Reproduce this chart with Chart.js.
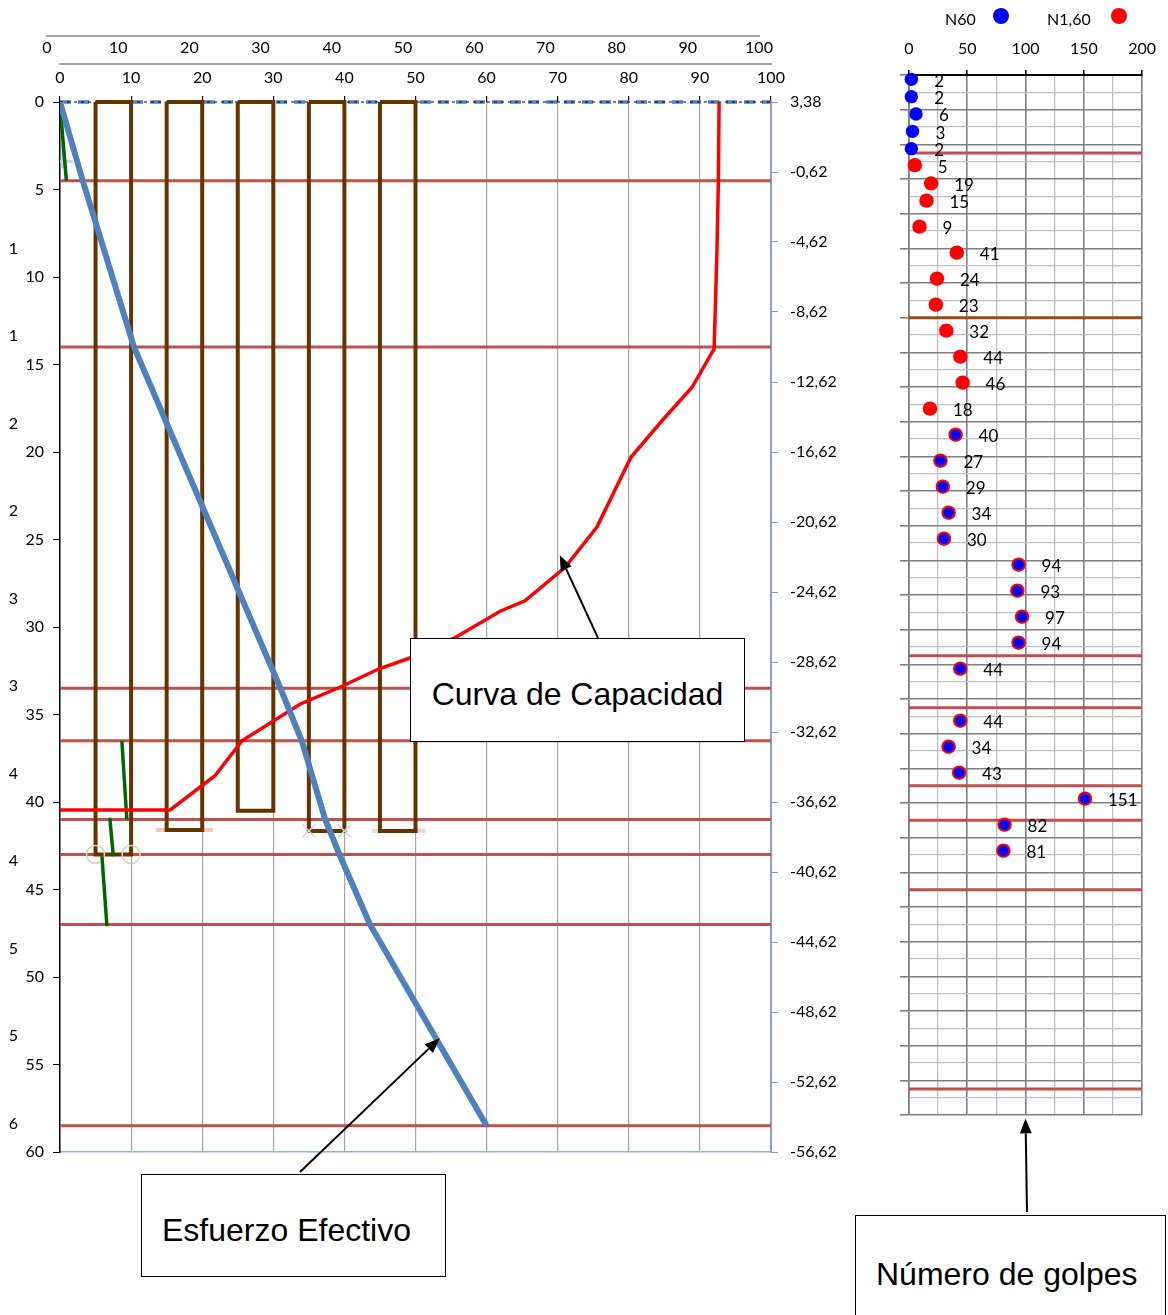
<!DOCTYPE html>
<html>
<head>
<meta charset="utf-8">
<script src="https://cdn.jsdelivr.net/npm/chart.js@4.4.1/dist/chart.umd.min.js"></script>
<style>
  body { margin: 0; background: #fff; }
  #page { position: relative; width: 1168px; height: 1315px; overflow: hidden; font-family: Lato, sans-serif; }
  canvas { position: absolute; }
  .box { position: absolute; background: #fff; border: 1.5px solid #000; box-sizing: border-box;
         font-family: "Liberation Sans", Arial, sans-serif; font-size: 32px; color: #000; white-space: nowrap;
         display: flex; align-items: center; }
  .legend { position: absolute; font-size: 16px; line-height: 18px; color: #000; }
  .dot { position: absolute; width: 16px; height: 16px; border-radius: 50%; }
</style>
</head>
<body>
<div id="page">
  <canvas id="main" width="860" height="1315" style="left:0;top:0"></canvas>
  <canvas id="axisInner" width="860" height="100" style="left:0;top:0"></canvas>
  <canvas id="axisOuter" width="860" height="70" style="left:0;top:0"></canvas>
  <canvas id="spt" width="308" height="1315" style="left:860px;top:0"></canvas>

  <div class="legend" style="left:945px;top:10px">N60</div>
  <div class="dot" style="left:993px;top:8px;background:#0000FF"></div>
  <div class="legend" style="left:1047px;top:10px">N1,60</div>
  <div class="dot" style="left:1111px;top:8px;background:#FF0000"></div>

  <div class="box" style="left:410px;top:638px;width:335px;height:104px;justify-content:center;padding-top:8px">Curva de Capacidad</div>
  <div class="box" style="left:141px;top:1174px;width:305px;height:103px;padding-left:20px;padding-top:10px">Esfuerzo Efectivo</div>
  <div class="box" style="left:855px;top:1215px;width:311px;height:118px;padding-left:20px;padding-top:0">Número de golpes</div>
</div>
<script>
// ---------- data ----------
const elevTicks = [3.38, -0.62, -4.62, -8.62, -12.62, -16.62, -20.62, -24.62, -28.62, -32.62, -36.62, -40.62, -44.62, -48.62, -52.62, -56.62];
const altTickDepths = [8.38, 13.38, 18.38, 23.38, 28.38, 33.38, 38.38, 43.38, 48.38, 53.38, 58.38];
const altTickLabels = ['1', '1', '2', '2', '3', '3', '4', '4', '5', '5', '6'];

// layer boundaries (depth, m)
const layerDepths = [4.5, 14.0, 33.5, 36.5, 41.0, 43.0, 47.0, 58.5];

// piles
const pileLeft = [5, 15, 25, 35, 45];
const pileRight = [10, 20, 30, 40, 50];
const pileTip = [43.0, 41.6, 40.5, 41.65, 41.65];

// esfuerzo efectivo
const stressDepth = [0, 4.5, 14.0, 33.5, 36.5, 41.0, 43.0, 47.0, 58.5];
const stressValue = [0, 3.2, 10.4, 31.0, 34.0, 37.3, 39.3, 43.6, 60.0];

// curva de capacidad
const capacityDepth = [0, 4.5, 8.5, 14.1, 16.3, 18.2, 20.3, 24.3, 26.6, 28.5, 29.1, 30.6, 31.8, 32.4, 33.4, 34.4, 36.5, 38.5, 40.45, 40.45];
const capacityValue = [92.7, 92.6, 92.4, 92.0, 88.9, 84.7, 80.3, 75.5, 71.0, 65.4, 61.9, 55.6, 49.0, 44.8, 39.6, 33.8, 25.6, 21.8, 15.5, 0];

// green segments [x, depth]
const greenFrom = [[0, 0.2], [8.7, 36.5], [7.0, 40.9], [5.9, 43.1]];
const greenTo = [[0.9, 4.5], [9.4, 41.0], [7.5, 43.1], [6.6, 47.1]];

// SPT
const n60Depth = [0.25, 1.25, 2.25, 3.25, 4.25, 20.75, 22.25, 23.75, 25.25, 26.75, 28.25, 29.75, 31.25, 32.75, 34.25, 37.25, 38.75, 40.25, 41.75, 43.25, 44.75];
const n60Value = [2, 2, 6, 3, 2, 40, 27, 29, 34, 30, 94, 93, 97, 94, 44, 44, 34, 43, 151, 82, 81];
const n160Depth = [5.2, 6.25, 7.25, 8.75, 10.25, 11.75, 13.25, 14.75, 16.25, 17.75, 19.25, 20.75, 22.25, 23.75, 25.25, 26.75, 28.25, 29.75, 31.25, 32.75, 34.25, 37.25, 38.75, 40.25, 41.75, 43.25, 44.75];
const n160Value = [5, 19, 15, 9, 41, 24, 23, 32, 44, 46, 18, 40, 27, 29, 34, 30, 94, 93, 97, 94, 44, 44, 34, 43, 151, 82, 81];

// ---------- helpers ----------
Chart.defaults.font.family = 'Lato';
Chart.defaults.font.size = 16;
Chart.defaults.color = '#000';

function segments(list) {
  const out = [];
  list.forEach(s => { out.push({x: s[0], y: s[1]}, {x: s[2], y: s[3]}, {x: s[2], y: null}); });
  return out;
}
function zip(xs, ys) { return xs.map((x, i) => ({x: x, y: ys[i]})); }

function drawArrow(ctx, x1, y1, x2, y2) {
  const ang = Math.atan2(y2 - y1, x2 - x1), len = 15, half = 6;
  const bx = x2 - len * Math.cos(ang), by = y2 - len * Math.sin(ang);
  ctx.save();
  ctx.strokeStyle = '#000'; ctx.fillStyle = '#000'; ctx.lineWidth = 2;
  ctx.beginPath(); ctx.moveTo(x1, y1); ctx.lineTo(bx, by); ctx.stroke();
  ctx.beginPath();
  ctx.moveTo(x2, y2);
  ctx.lineTo(bx + half * Math.sin(ang), by - half * Math.cos(ang));
  ctx.lineTo(bx - half * Math.sin(ang), by + half * Math.cos(ang));
  ctx.closePath(); ctx.fill();
  ctx.restore();
}

const arrowPlugin = {
  id: 'arrows',
  afterDraw(chart, args, opts) {
    (opts.list || []).forEach(a => {
      const hx = chart.scales[a.xAxis].getPixelForValue(a.at[0]);
      const hy = chart.scales[a.yAxis].getPixelForValue(a.at[1]);
      drawArrow(chart.ctx, a.from[0], a.from[1], hx, hy);
    });
  }
};

const valueLabels = {
  id: 'valueLabels',
  afterDatasetsDraw(chart) {
    const ctx = chart.ctx, seen = new Set();
    ctx.save();
    ctx.font = '17px Lato'; ctx.fillStyle = '#000';
    ctx.textAlign = 'left'; ctx.textBaseline = 'middle';
    chart.data.datasets.forEach((ds, i) => {
      if (!ds.showValues) return;
      const meta = chart.getDatasetMeta(i);
      ds.data.forEach((p, j) => {
        if (seen.has(p.y)) return;
        seen.add(p.y);
        const el = meta.data[j];
        ctx.fillText(String(p.x), el.x + 23, el.y + 2);
      });
    });
    ctx.restore();
  }
};

// ---------- main chart datasets ----------
const pileData = [];
pileLeft.forEach((l, i) => {
  const r = pileRight[i], t = pileTip[i];
  pileData.push({x: l, y: 0}, {x: l, y: t}, {x: r, y: t}, {x: r, y: 0}, {x: l, y: 0}, {x: l, y: null});
});

const line = (o) => Object.assign({showLine: true, pointRadius: 0, fill: false, xAxisID: 'x', yAxisID: 'y', tension: 0}, o);

new Chart(document.getElementById('main'), {
  type: 'scatter',
  data: {
    datasets: [
      line({label: 'Esfuerzo Efectivo', data: zip(stressValue, stressDepth), borderColor: '#4F81BD', borderWidth: 6, order: 0}),
      line({label: 'Curva de Capacidad', data: zip(capacityValue, capacityDepth), borderColor: '#FF0000', borderWidth: 3.5, order: 1}),
      line({label: 'green', data: segments(greenFrom.map((f, i) => [f[0], f[1], greenTo[i][0], greenTo[i][1]])), borderColor: '#006600', borderWidth: 3.5, order: 2}),
      {label: 'marks o', data: [{x: pileLeft[0], y: pileTip[0]}, {x: pileRight[0], y: pileTip[0]}], showLine: false, pointStyle: 'circle',
       pointRadius: 9, backgroundColor: 'rgba(0,0,0,0)', borderColor: '#CBDAB8', borderWidth: 1.5, xAxisID: 'x', yAxisID: 'y', order: 3},
      {label: 'marks x', data: [{x: pileLeft[3], y: pileTip[3]}, {x: pileRight[3], y: pileTip[3]}], showLine: false, pointStyle: 'crossRot',
       pointRadius: 9, borderColor: '#D2D2E8', borderWidth: 1.5, xAxisID: 'x', yAxisID: 'y', order: 3},
      line({label: 'piles', data: pileData, borderColor: '#663300', borderWidth: 4, order: 4, clip: false}),
      line({label: 'bar1', data: segments([[13.5, pileTip[1], 21.5, pileTip[1]]]), borderColor: '#F8CBAD', borderWidth: 4, order: 5}),
      line({label: 'bar2', data: segments([[43.9, pileTip[4], 48.6, pileTip[4]]]), borderColor: '#D8E4C4', borderWidth: 4, order: 5}),
      line({label: 'bar3', data: segments([[48.6, pileTip[4], 51.4, pileTip[4]]]), borderColor: '#E8D3DE', borderWidth: 4, order: 5}),
      line({label: 'err', data: segments([[0.35, 0, 0.35, 3.8], [-0.7, 3.4, 1.8, 3.4]]), borderColor: '#D0D0DE', borderWidth: 3, order: 5}),
      line({label: 'axis0', data: [{x: 0, y: 0}, {x: 100, y: 0}], borderColor: '#000', borderWidth: 1, borderDash: [3, 4], order: 6, clip: false}),
      line({label: 'surface', data: [{x: 0, y: 0}, {x: 100, y: 0}], borderColor: '#4F81BD', borderWidth: 3.5, borderDash: [11, 7], order: 7, clip: false}),
      line({label: 'layers', data: segments(layerDepths.map(d => [0, d, 100, d])), borderColor: '#C0504D', borderWidth: 3, order: 8})
    ]
  },
  options: {
    responsive: false, animation: false,
    layout: {padding: {top: 96, left: 0, right: 0, bottom: 163}},
    plugins: {
      legend: {display: false}, tooltip: {enabled: false},
      arrows: {list: [
        {from: [598, 638], at: [70.3, 25.9], xAxis: 'x', yAxis: 'y'},
        {from: [300, 1172], at: [53.4, 53.5], xAxis: 'x', yAxis: 'y'}
      ]}
    },
    scales: {
      x: {
        type: 'linear', position: 'top', min: 0, max: 100,
        ticks: {display: false, stepSize: 10, autoSkip: false},
        grid: {
          color: c => (c.tick && (c.tick.value === 0 || c.tick.value === 100)) ? 'rgba(0,0,0,0)' : '#A6A6A6',
          tickColor: '#000', tickLength: 6, lineWidth: 1.2
        },
        border: {display: false},
        afterFit: s => { s.height = 6; }
      },
      xb: {
        type: 'linear', position: 'bottom', min: 0, max: 100,
        ticks: {display: false}, grid: {display: false, drawTicks: false},
        border: {display: true, color: '#8DB3E2', width: 1.5},
        afterFit: s => { s.height = 0; }
      },
      y: {
        type: 'linear', position: 'left', min: 0, max: 60, reverse: true,
        ticks: {stepSize: 5, autoSkip: false, padding: 9},
        grid: {drawOnChartArea: false, color: '#000', tickLength: 7},
        border: {display: true, color: '#000', width: 1.5},
        afterFit: s => { s.width = 35; }
      },
      yAlt: {
        type: 'linear', position: 'left', min: 0, max: 60, reverse: true, weight: 1,
        afterBuildTicks: s => { s.ticks = altTickDepths.map(v => ({value: v})); },
        ticks: {autoSkip: false, padding: 7, callback: (v, i) => altTickLabels[i]},
        grid: {display: false, drawTicks: false},
        border: {display: false},
        afterFit: s => { s.width = 25; }
      },
      yR: {
        type: 'linear', position: 'right', min: -56.62, max: 3.38,
        afterBuildTicks: s => { s.ticks = elevTicks.map(v => ({value: v})); },
        ticks: {autoSkip: false, padding: 12, callback: v => v.toFixed(2).replace('.', ',')},
        grid: {drawOnChartArea: false, color: '#8EA0B8', tickLength: 7},
        border: {display: true, color: '#8EA0B8', width: 2},
        afterFit: s => { s.width = 89; }
      }
    }
  },
  plugins: [arrowPlugin]
});

// ---------- top axis overlays ----------
function topAxis(id, padLeft, padRight, canvasH, lineY, pad) {
  new Chart(document.getElementById(id), {
    type: 'scatter',
    data: {datasets: []},
    options: {
      responsive: false, animation: false,
      layout: {padding: {top: 0, left: padLeft, right: padRight, bottom: 0}},
      plugins: {legend: {display: false}, tooltip: {enabled: false}},
      scales: {
        x: {
          type: 'linear', position: 'bottom', min: 0, max: 100,
          ticks: {stepSize: 10, autoSkip: false, padding: pad, maxRotation: 0},
          grid: {display: false, drawTicks: false},
          border: {display: true, color: '#A6A6A6', width: 2},
          afterFit: s => { s.height = canvasH - lineY; }
        },
        y: {display: false, min: 0, max: 1}
      }
    }
  });
}
topAxis('axisInner', 60, 89, 100, 64, 4);
topAxis('axisOuter', 47, 101, 70, 36, 2);

// ---------- SPT chart ----------
const rightRed = layerDepths.filter(d => d !== 14.0);
const rightBrown = layerDepths.filter(d => d === 14.0);
const both = i => n160Depth.includes(n60Depth[i]);

new Chart(document.getElementById('spt'), {
  type: 'scatter',
  data: {
    datasets: [
      {label: 'N60', data: zip(n60Value, n60Depth), showValues: true, clip: false, order: 0,
       backgroundColor: '#0000FF', pointBorderColor: '#FF0000',
       pointRadius: c => both(c.dataIndex) ? 6 : 6.7,
       pointBorderWidth: c => both(c.dataIndex) ? 1.5 : 0},
      {label: 'N1,60', data: zip(n160Value, n160Depth), showValues: true, clip: false, order: 1,
       backgroundColor: '#FF0000', borderWidth: 0, pointRadius: 7.2},
      {label: 'brown', data: segments(rightBrown.map(d => [0, d, 200, d])), showLine: true, pointRadius: 0,
       borderColor: '#9A4A0C', borderWidth: 3, order: 2},
      {label: 'layers', data: segments(rightRed.map(d => [0, d, 200, d])), showLine: true, pointRadius: 0,
       borderColor: '#C0504D', borderWidth: 3, order: 3}
    ]
  },
  options: {
    responsive: false, animation: false,
    layout: {padding: {top: 0, left: 0, right: 21, bottom: 200}},
    plugins: {
      legend: {display: false}, tooltip: {enabled: false},
      arrows: {list: [{from: [167, 1212], at: [100, 60.2], xAxis: 'x', yAxis: 'y'}]}
    },
    scales: {
      x: {
        type: 'linear', position: 'top', min: 0, max: 200,
        ticks: {stepSize: 25, autoSkip: false, padding: 12, maxRotation: 0,
                callback: v => (v % 50 === 0 ? String(v) : '')},
        grid: {
          color: c => (c.tick && c.tick.value % 50 === 0) ? '#7F7F7F' : '#BFBFBF',
          lineWidth: c => (c.tick && c.tick.value % 50 === 0) ? 1.6 : 1.3,
          tickColor: c => (c.tick && c.tick.value % 50 === 0) ? '#000' : 'rgba(0,0,0,0)',
          tickLength: 5
        },
        border: {display: true, color: '#000', width: 2},
        afterFit: s => { s.height = 75; }
      },
      y: {
        type: 'linear', position: 'left', min: 0, max: 60, reverse: true,
        ticks: {display: false, stepSize: 1, autoSkip: false},
        grid: {
          color: c => (c.tick && c.tick.value % 2 === 0) ? '#7F7F7F' : '#BFBFBF',
          lineWidth: c => (c.tick && c.tick.value % 2 === 0) ? 1.6 : 1.3,
          tickColor: c => (c.tick && c.tick.value % 2 === 0) ? '#7F7F7F' : 'rgba(0,0,0,0)',
          tickLength: 9
        },
        border: {display: true, color: '#7F7F7F', width: 1.6},
        afterFit: s => { s.width = 49; }
      }
    }
  },
  plugins: [valueLabels, arrowPlugin]
});
</script>
</body>
</html>
